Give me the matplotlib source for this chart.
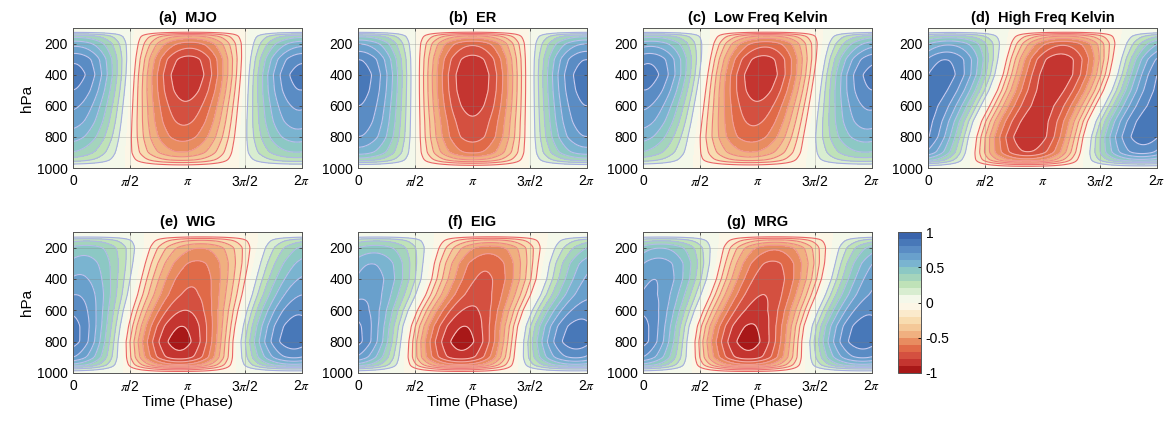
import numpy as np
import matplotlib
matplotlib.use("Agg")
import matplotlib.pyplot as plt
from matplotlib.colors import ListedColormap, BoundaryNorm
from matplotlib.cm import ScalarMappable

plt.rcParams['font.family'] = ['Liberation Sans', 'DejaVu Sans']
plt.rcParams['mathtext.fontset'] = 'stix'

W, H = 1168, 422

levels_p = [100, 125, 150, 200, 300, 400, 500, 600, 700, 800, 900, 950, 975, 1000]

titles = ["(a)  MJO", "(b)  ER", "(c)  Low Freq Kelvin", "(d)  High Freq Kelvin",
          "(e)  WIG", "(f)  EIG", "(g)  MRG"]

# phase (in units of pi) of the negative extreme at each level
t_red = {
    "a": [1.03, 1.03, 1.02, 1.02, 1.01, 1.0, 0.99, 0.98, 0.97, 0.96, 0.95, 0.95, 0.95, 0.95],
    "b": [1.0, 1.0, 1.0, 1.0, 1.0, 1.0, 1.0, 1.0, 1.0, 1.0, 1.0, 1.0, 1.0, 1.0],
    "c": [1.08, 1.08, 1.08, 1.07, 1.05, 1.03, 1.01, 0.99, 0.97, 0.95, 0.94, 0.93, 0.93, 0.93],
    "d": [1.2, 1.2, 1.19, 1.18, 1.15, 1.12, 1.07, 1.0, 0.93, 0.89, 0.87, 0.86, 0.86, 0.86],
    "e": [1.12, 1.12, 1.12, 1.11, 1.08, 1.05, 1.02, 0.98, 0.95, 0.93, 0.93, 0.93, 0.93, 0.93],
    "f": [1.16, 1.16, 1.16, 1.15, 1.12, 1.1, 1.05, 0.98, 0.93, 0.91, 0.9, 0.9, 0.9, 0.9],
    "g": [1.16, 1.16, 1.16, 1.15, 1.13, 1.1, 1.05, 0.99, 0.94, 0.92, 0.92, 0.92, 0.92, 0.92],
}

# amplitude of the negative (red) lobe
amp_neg = {
    "a": [0, 0.04, 0.42, 0.64, 0.84, 0.89, 0.85, 0.78, 0.72, 0.64, 0.5, 0.32, 0.12, 0],
    "b": [0, 0.04, 0.42, 0.68, 0.84, 0.89, 0.88, 0.84, 0.78, 0.74, 0.62, 0.4, 0.14, 0],
    "c": [0, 0.04, 0.42, 0.66, 0.84, 0.89, 0.85, 0.78, 0.72, 0.65, 0.5, 0.33, 0.12, 0],
    "d": [0, 0.04, 0.4, 0.68, 0.86, 0.89, 0.86, 0.84, 0.86, 0.89, 0.8, 0.56, 0.22, 0],
    "e": [0, 0.02, 0.3, 0.5, 0.62, 0.68, 0.72, 0.8, 0.9, 0.95, 0.86, 0.58, 0.24, 0],
    "f": [0, 0.02, 0.32, 0.55, 0.68, 0.72, 0.75, 0.82, 0.9, 0.95, 0.86, 0.58, 0.24, 0],
    "g": [0, 0.02, 0.32, 0.58, 0.72, 0.77, 0.8, 0.84, 0.91, 0.95, 0.86, 0.58, 0.24, 0],
}

# amplitude of the positive (blue) lobe
amp_pos = {
    "a": [0, 0.04, 0.36, 0.56, 0.78, 0.85, 0.8, 0.72, 0.65, 0.55, 0.4, 0.25, 0.09, 0],
    "b": [0, 0.04, 0.38, 0.6, 0.8, 0.86, 0.84, 0.8, 0.76, 0.7, 0.55, 0.34, 0.1, 0],
    "c": [0, 0.04, 0.36, 0.56, 0.78, 0.85, 0.8, 0.72, 0.65, 0.55, 0.4, 0.25, 0.09, 0],
    "d": [0, 0.04, 0.34, 0.58, 0.8, 0.86, 0.84, 0.83, 0.85, 0.86, 0.74, 0.48, 0.18, 0],
    "e": [0, 0.02, 0.28, 0.45, 0.55, 0.62, 0.7, 0.78, 0.85, 0.87, 0.72, 0.48, 0.18, 0],
    "f": [0, 0.02, 0.28, 0.45, 0.6, 0.65, 0.68, 0.75, 0.84, 0.87, 0.72, 0.48, 0.18, 0],
    "g": [0, 0.02, 0.28, 0.5, 0.65, 0.7, 0.72, 0.78, 0.85, 0.87, 0.72, 0.48, 0.18, 0],
}

# colorbar bands from -1 to 1
band_colors = ["#a81818", "#c43530", "#d45040", "#e06a48", "#e88c60",
               "#f0b080", "#f4c898", "#f8dcb0", "#fbeacc", "#fcf6e6",
               "#f4f8ea", "#d8edd0", "#bfe2b8", "#a4d4bc", "#8cc8c4",
               "#7ab4d0", "#69a0cc", "#5a8cc4", "#4878b8", "#3a64ac"]

xtick_labels = ["0", r"$\pi$/2", r"$\pi$", r"3$\pi$/2", r"2$\pi$"]

cmap = ListedColormap(band_colors)
bounds = np.round(np.arange(-1, 1.001, 0.1), 2)
norm = BoundaryNorm(bounds, cmap.N)

line_levels = [b for b in bounds if abs(b) > 0.01 and abs(b) < 0.99]


def line_color(v):
    if v < 0:
        c0, c1 = np.array([234, 100, 100]), np.array([246, 190, 186])
        f = (-v - 0.1) / 0.8
    else:
        c0, c1 = np.array([166, 174, 226]), np.array([206, 208, 242])
        f = (v - 0.1) / 0.8
    return tuple((c0 + (c1 - c0) * f) / 255.0)


def smooth(prof, width=3):
    k = np.exp(-0.5 * (np.arange(-3 * width, 3 * width + 1) / width) ** 2)
    k /= k.sum()
    padded = np.pad(prof, 3 * width, mode="edge")
    return np.convolve(padded, k, mode="valid")


tt = np.linspace(0, 2 * np.pi, 361)
pp = np.linspace(100, 1000, 361)


def make_field(key):
    tr = smooth(np.interp(pp, levels_p, t_red[key])) * np.pi
    an = smooth(np.interp(pp, levels_p, amp_neg[key]))
    ap = smooth(np.interp(pp, levels_p, amp_pos[key]))
    T, _ = np.meshgrid(tt, pp)
    c = -np.cos(T - tr[:, None])
    return np.where(c < 0, an[:, None] * c, ap[:, None] * c)


fig = plt.figure(figsize=(W / 100, H / 100), dpi=100)

keys = ["a", "b", "c", "d", "e", "f", "g"]
lefts = [73, 358, 643, 928, 73, 358, 643]
for i, key in enumerate(keys):
    top_row = i < 4
    y0, y1 = (28, 168) if top_row else (232, 373)
    ax = fig.add_axes([lefts[i] / W, (H - y1) / H, 229 / W, (y1 - y0) / H])
    z = make_field(key)
    ax.set_facecolor("#fcf8ea")
    ax.contourf(tt, pp, z, levels=bounds, cmap=cmap, norm=norm, extend="neither")
    ax.contour(tt, pp, z, levels=line_levels,
               colors=[line_color(v) for v in line_levels], linewidths=0.8)
    ax.set_xlim(0, 2 * np.pi)
    ax.set_ylim(1000, 100)
    ax.set_xticks(np.arange(5) * np.pi / 2)
    ax.set_xticklabels(xtick_labels)
    ax.set_yticks([200, 400, 600, 800, 1000])
    ax.tick_params(direction="in", length=2.5, width=0.6, labelsize=10,
                   top=True, right=True, color="#444444", pad=4)
    ax.grid(True, color="#808080", alpha=0.35, linewidth=0.6)
    for s in ax.spines.values():
        s.set_color("#555555")
        s.set_linewidth(0.7)
    ax.set_title(titles[i], fontsize=10.5, fontweight="bold", pad=4)
    if lefts[i] == 73:
        ax.set_ylabel("hPa", fontsize=11, labelpad=2)
    if not top_row:
        ax.set_xlabel("Time (Phase)", fontsize=11, labelpad=1)

cax = fig.add_axes([898 / W, (H - 373) / H, 23 / W, 141 / H])
sm = ScalarMappable(norm=norm, cmap=cmap)
cb = fig.colorbar(sm, cax=cax, ticks=[-1, -0.5, 0, 0.5, 1])
cb.ax.set_yticklabels(["-1", "-0.5", "0", "0.5", "1"])
cb.ax.minorticks_off()
cb.ax.tick_params(labelsize=10, direction="in", length=2.5, width=0.6)
cb.outline.set_edgecolor("#555555")
cb.outline.set_linewidth(0.7)

fig.savefig("out.png", dpi=100)
